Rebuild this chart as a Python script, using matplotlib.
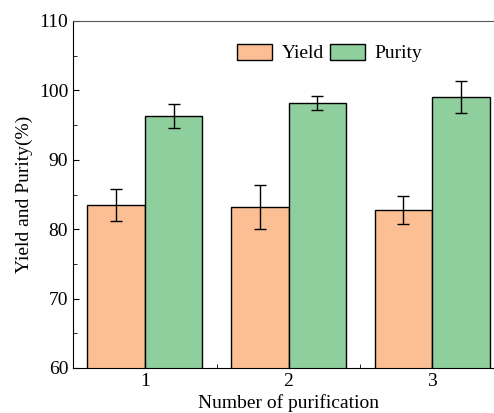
import matplotlib
matplotlib.use('Agg')
import matplotlib.pyplot as plt
from matplotlib.ticker import MultipleLocator
import numpy as np

# data
rounds = [1, 2, 3]
yield_vals = [83.5, 83.2, 82.8]
yield_err = [2.3, 3.1, 2.0]
purity_vals = [96.3, 98.2, 99.1]
purity_err = [1.7, 1.0, 2.3]

plt.rcParams['font.family'] = ['Liberation Serif', 'DejaVu Serif']
plt.rcParams['font.size'] = 14

fig = plt.figure(figsize=(4.94, 4.13), dpi=100)
# axes runs slightly past the right edge, like the cropped original
ax = fig.add_axes([73 / 494, 45 / 413, 431 / 494, 347 / 413])

x = np.array(rounds)
w = 0.4
ax.bar(x - w / 2, yield_vals, w, yerr=yield_err, color='#FCBF93', edgecolor='black',
       linewidth=1.0, capsize=4, error_kw=dict(elinewidth=1.0, capthick=1.0), label='Yield')
ax.bar(x + w / 2, purity_vals, w, yerr=purity_err, color='#8FCE9D', edgecolor='black',
       linewidth=1.0, capsize=4, error_kw=dict(elinewidth=1.0, capthick=1.0), label='Purity')

ax.set_xlim(0.5, 3.5)
ax.set_ylim(60, 110)
ax.set_xticks(rounds)
ax.xaxis.set_minor_locator(MultipleLocator(0.5))
ax.yaxis.set_major_locator(MultipleLocator(10))
ax.yaxis.set_minor_locator(MultipleLocator(5))
ax.tick_params(which='both', direction='in', top=False, right=False)
ax.tick_params(which='major', length=4)
ax.tick_params(which='minor', length=3)

ax.spines['top'].set_color('#555555')
ax.spines['right'].set_visible(False)

ax.set_xlabel('Number of purification', fontsize=14, labelpad=3)
ax.set_ylabel('Yield and Purity(%)', fontsize=14, labelpad=4)

ax.legend(loc='upper center', bbox_to_anchor=(0.595, 0.985), ncol=2, frameon=False,
          fontsize=14, handlelength=1.8, handleheight=0.9, columnspacing=0.3, handletextpad=0.5)

fig.savefig('out.png', dpi=100)
